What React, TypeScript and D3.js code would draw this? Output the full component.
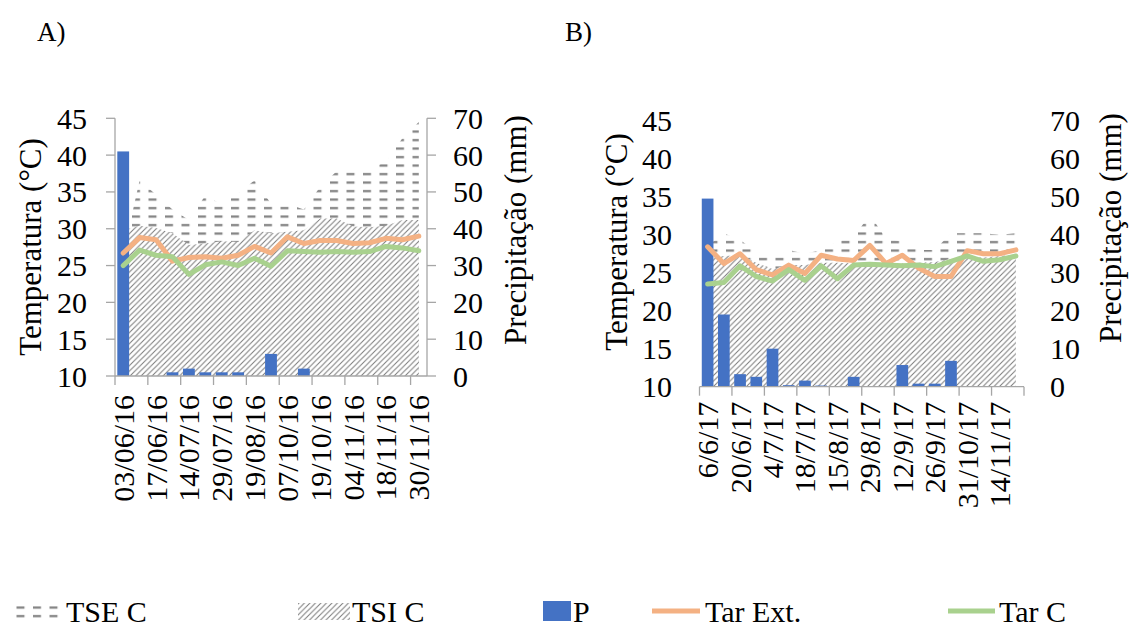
import React, { useEffect } from 'react';
import * as d3 from 'd3';

// Panel A (2016)
const tickLabelsA = ['03/06/16', '17/06/16', '14/07/16', '29/07/16', '19/08/16', '07/10/16', '19/10/16', '04/11/16', '18/11/16', '30/11/16'];
const pA = [61, 0, 0, 1, 2, 1, 1, 1, 0, 6, 0, 2, 0, 0, 0, 0, 0, 0, 0];
const tarExtA = [26.7, 28.8, 28.5, 25.6, 26.1, 26.2, 26.0, 26.4, 27.6, 26.7, 28.9, 28.0, 28.4, 28.4, 28.0, 28.1, 28.7, 28.5, 29.0];
const tarCA = [25.0, 27.1, 26.4, 26.2, 23.8, 25.1, 25.5, 25.0, 26.0, 24.9, 27.0, 26.9, 26.8, 26.9, 26.8, 26.9, 27.6, 27.4, 27.0];
const tseA = [26.6, 36.6, 34.6, 32.6, 31.2, 34.5, 33.3, 34.8, 36.6, 33.4, 33.4, 32.6, 35.7, 37.8, 38.0, 38.1, 39.1, 42.3, 44.5];
const tsiA = [29.8, 30.4, 30.1, 29.4, 27.8, 28.0, 28.3, 28.2, 29.8, 29.4, 29.6, 29.8, 31.4, 31.4, 30.3, 30.2, 30.4, 31.2, 31.2];

// Panel B (2017)
const tickLabelsB = ['6/6/17', '20/6/17', '4/7/17', '18/7/17', '15/8/17', '29/8/17', '12/9/17', '26/9/17', '31/10/17', '14/11/17'];
const pB = [49.5, 19, 3.3, 2.6, 10, 0.4, 1.6, 0.3, 0, 2.6, 0, 0, 5.7, 0.8, 0.8, 6.8, 0, 0, 0, 0];
const tarExtB = [28.4, 26.2, 27.5, 25.4, 24.7, 26.0, 24.9, 27.3, 26.8, 26.6, 28.6, 26.2, 27.3, 25.6, 24.5, 24.5, 27.9, 27.5, 27.5, 28.0];
const tarCB = [23.5, 23.7, 25.9, 24.5, 23.9, 25.4, 24.0, 25.9, 24.2, 26.0, 26.1, 26.0, 25.9, 26.0, 25.8, 26.5, 27.2, 26.5, 26.7, 27.2];
const tseB = [28.5, 30.2, 29.3, 27.8, 26.9, 28.0, 27.5, 28.0, 29.1, 29.7, 32.6, 29.5, 29.1, 28.0, 28.0, 30.2, 30.2, 30.2, 30.0, 30.2];
const tsiB = [27.0, 27.2, 27.3, 26.3, 25.5, 26.0, 26.0, 26.3, 26.3, 26.2, 26.2, 26.2, 26.2, 26.3, 26.4, 26.8, 27.0, 27.0, 27.2, 27.4];

const tempTicks = [10, 15, 20, 25, 30, 35, 40, 45];
const precTicks = [0, 10, 20, 30, 40, 50, 60, 70];
const legendLabels = ['TSE C', 'TSI C', 'P', 'Tar Ext.', 'Tar C'];

const BAR = '#4472C4';
const EXT = '#F4B183';
const TARC = '#A9D18E';
const AXIS = '#A6A6A6';
const PAT = '#808080';
const FONT = "'Liberation Serif', 'Times New Roman', serif";

type PanelProps = {
  x0: number; x1: number; yTop: number; yBot: number;
  labels: string[]; p: number[]; ext: number[]; tarc: number[]; tse: number[]; tsi: number[];
  axisLines: boolean; leftLabelX: number; rightLabelX: number; labelGap: number;
  leftTitle: [number, number]; rightTitle: [number, number];
};

function Panel(props: PanelProps) {
  const { x0, x1, yTop, yBot, labels, p, ext, tarc, tse, tsi, axisLines } = props;
  const n = p.length;
  const x = d3.scaleBand<number>().domain(d3.range(n)).range([x0, x1]).paddingInner(0.28).paddingOuter(0.14);
  const step = x.step();
  const bw = x.bandwidth();
  const cx = (i: number) => (x(i) as number) + bw / 2;
  const temp = d3.scaleLinear().domain([10, 45]).range([yBot, yTop]);
  const prec = d3.scaleLinear().domain([0, 70]).range([yBot, yTop]);

  const area = d3.area<number>().x((_, i) => cx(i)).y0(temp(10)).y1(d => temp(d));
  const line = d3.line<number>().x((_, i) => cx(i)).y(d => temp(d));

  const catTicks = d3.range(0, n + 1, 2);

  return (
    <g>
      <path d={area(tse) || ''} fill="url(#dash)" />
      <path d={area(tsi) || ''} fill="url(#hatch)" />
      {p.map((v, i) => v > 0 ? (
        <rect key={i} x={x(i)} y={prec(v)} width={bw} height={prec(0) - prec(v)} fill={BAR} />
      ) : null)}
      <path d={line(ext) || ''} fill="none" stroke={EXT} strokeWidth={5} strokeLinejoin="round" strokeLinecap="round" />
      <path d={line(tarc) || ''} fill="none" stroke={TARC} strokeWidth={5} strokeLinejoin="round" strokeLinecap="round" />

      {/* category axis */}
      <line x1={x0} x2={x1} y1={yBot} y2={yBot} stroke={AXIS} strokeWidth={1.3} />
      {catTicks.map(k => (
        <line key={k} x1={x0 + k * step} x2={x0 + k * step} y1={yBot} y2={yBot + 9} stroke={AXIS} strokeWidth={1.3} />
      ))}
      {labels.map((l, k) => (
        <text key={l} transform={`translate(${cx(2 * k)},${yBot + props.labelGap}) rotate(-90)`}
          textAnchor="end" dominantBaseline="central" fontSize={30}>{l}</text>
      ))}

      {axisLines && (
        <g>
          <line x1={x0} x2={x0} y1={yTop} y2={yBot} stroke={AXIS} strokeWidth={1.3} />
          <line x1={x1} x2={x1} y1={yTop} y2={yBot} stroke={AXIS} strokeWidth={1.3} />
          {tempTicks.map(t => (
            <line key={t} x1={x0 - 9} x2={x0} y1={temp(t)} y2={temp(t)} stroke={AXIS} strokeWidth={1.3} />
          ))}
          {precTicks.map(t => (
            <line key={t} x1={x1} x2={x1 + 9} y1={prec(t)} y2={prec(t)} stroke={AXIS} strokeWidth={1.3} />
          ))}
        </g>
      )}
      {tempTicks.map(t => (
        <text key={t} x={props.leftLabelX} y={temp(t)} textAnchor="end" dominantBaseline="central" fontSize={30}>{t}</text>
      ))}
      {precTicks.map(t => (
        <text key={t} x={props.rightLabelX} y={prec(t)} textAnchor="start" dominantBaseline="central" fontSize={30}>{t}</text>
      ))}
      <text transform={`translate(${props.leftTitle[0]},${props.leftTitle[1]}) rotate(-90)`} textAnchor="middle"
        dominantBaseline="central" fontSize={31}>Temperatura (°C)</text>
      <text transform={`translate(${props.rightTitle[0]},${props.rightTitle[1]}) rotate(-90)`} textAnchor="middle"
        dominantBaseline="central" fontSize={31}>Precipitação (mm)</text>
    </g>
  );
}

export default function App() {
  useEffect(() => {
    document.body.style.margin = '0';
  }, []);

  const legendY = 611;
  return (
    <svg width={1129} height={626} style={{ display: 'block', background: '#fff', fontFamily: FONT }}>
      <defs>
        <pattern id="hatch" patternUnits="userSpaceOnUse" width={5.5} height={5.5}>
          <rect width={5.5} height={5.5} fill="#fff" />
          <path d="M0,5.5 L5.5,0 M-1,1 L1,-1 M4.5,6.5 L6.5,4.5" stroke="#7A7A7A" strokeWidth={1} />
        </pattern>
        <pattern id="dash" patternUnits="userSpaceOnUse" width={16.5} height={8.5}>
          <rect x={0} y={3} width={8} height={2.2} fill={PAT} />
        </pattern>
      </defs>

      <text x={37} y={41} fontSize={27}>A)</text>
      <text x={565} y={41} fontSize={27}>B)</text>

      <Panel x0={115} x1={427} yTop={118.3} yBot={376} labels={tickLabelsA} p={pA} ext={tarExtA} tarc={tarCA}
        tse={tseA} tsi={tsiA} axisLines={true} leftLabelX={87} rightLabelX={453} labelGap={19}
        leftTitle={[30, 247]} rightTitle={[515, 230]} />
      <Panel x0={699.5} x1={1024} yTop={120.7} yBot={386.7} labels={tickLabelsB} p={pB} ext={tarExtB} tarc={tarCB}
        tse={tseB} tsi={tsiB} axisLines={false} leftLabelX={672} rightLabelX={1050} labelGap={15}
        leftTitle={[616, 242]} rightTitle={[1110, 228]} />

      {/* legend */}
      <rect x={10} y={603} width={50} height={17} fill="url(#dash)" />
      <text x={66} y={legendY} dominantBaseline="central" fontSize={30}>{legendLabels[0]}</text>
      <rect x={298} y={603} width={52} height={17} fill="url(#hatch)" />
      <text x={352} y={legendY} dominantBaseline="central" fontSize={30}>{legendLabels[1]}</text>
      <rect x={543} y={601} width={28} height={20} fill={BAR} />
      <text x={573} y={legendY} dominantBaseline="central" fontSize={30}>{legendLabels[2]}</text>
      <line x1={652} x2={700} y1={legendY} y2={legendY} stroke={EXT} strokeWidth={5} />
      <text x={705} y={legendY} dominantBaseline="central" fontSize={30}>{legendLabels[3]}</text>
      <line x1={948} x2={995} y1={legendY} y2={legendY} stroke={TARC} strokeWidth={5} />
      <text x={999} y={legendY} dominantBaseline="central" fontSize={30}>{legendLabels[4]}</text>
    </svg>
  );
}
